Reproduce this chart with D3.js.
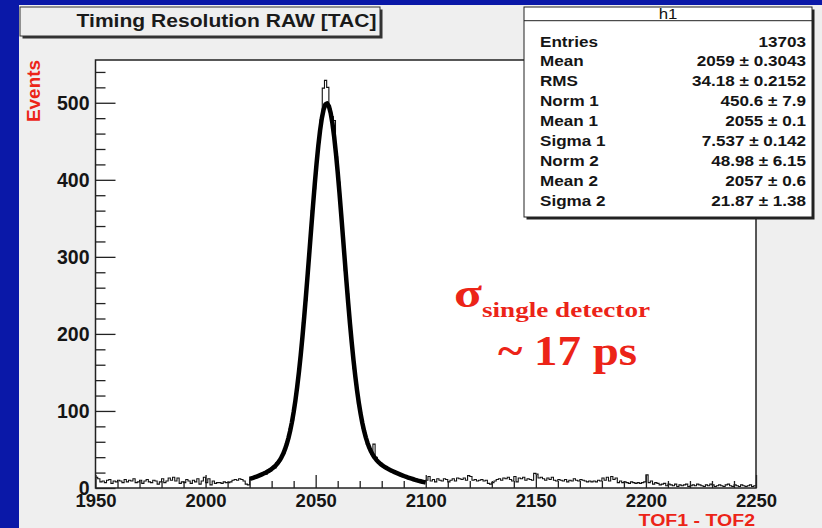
<!DOCTYPE html>
<html>
<head>
<meta charset="utf-8">
<script src="https://cdn.jsdelivr.net/npm/d3@7"></script>
<style>
  html, body { margin: 0; padding: 0; background: #0a18a8; }
  svg { display: block; }
</style>
</head>
<body>
<svg id="chart" width="822" height="528"></svg>
<script>
// ---- Histogram h1: TOF1 - TOF2, 300 bins of width 1 from 1950 to 2250 ----
const binStart = 1950;
const binWidth = 1;
const counts = [
  14, 12, 8, 9, 7, 10, 11, 6, 9, 8,          // 1950
  10, 9, 7, 11, 8, 10, 9, 12, 7, 8,          // 1960
  10, 6, 9, 11, 8, 7, 10, 9, 5, 8,           // 1970
  12, 7, 9, 13, 10, 14, 9, 13, 6, 8,         // 1980
  7, 11, 9, 6, 10, 8, 12, 5, 9, 14,          // 1990
  7, 12, 4, 9, 6, 7, 7, 6, 8, 7,             // 2000
  7, 8, 10, 11, 10, 12, 11, 9, 5, 4,         // 2010
  12, 14, 13, 16, 15, 17, 20, 18, 23, 22,    // 2020
  27, 26, 33, 34, 41, 45, 55, 62, 77, 88,    // 2030
  110, 127, 155, 178, 215, 243, 285, 316, 360, 388, // 2040
  428, 449, 478, 519, 529, 520, 492, 482, 477, 430, // 2050
  397, 356, 325, 282, 252, 213, 187, 155, 135, 110, // 2060
  97, 78, 71, 57, 52, 44, 57, 40, 33, 32,    // 2070
  28, 28, 24, 25, 21, 22, 19, 20, 16, 17,    // 2080
  14, 15, 12, 13, 11, 12, 9, 10, 8, 9,       // 2090
  10, 15, 9, 11, 8, 12, 10, 9, 12, 11,       // 2100
  8, 10, 12, 9, 13, 12, 11, 13, 10, 16,      // 2110
  15, 10, 11, 9, 10, 11, 9, 10, 6, 5,        // 2120
  7, 9, 11, 12, 10, 13, 12, 14, 11, 9,       // 2130
  15, 8, 13, 12, 14, 10, 12, 11, 10, 19,     // 2140
  18, 13, 14, 12, 10, 13, 11, 14, 10, 9,     // 2150
  11, 10, 9, 11, 8, 10, 9, 12, 10, 9,        // 2160
  11, 10, 9, 8, 9, 8, 9, 8, 10, 9,           // 2170
  13, 10, 14, 9, 15, 11, 13, 7, 9, 7,        // 2180
  8, 7, 6, 8, 7, 6, 7, 6, 7, 8,              // 2190
  17, 7, 9, 5, 7, 6, 4, 5, 6, 3,             // 2200
  5, 4, 3, 5, 2, 4, 3, 4, 5, 2,              // 2210
  3, 4, 3, 5, 4, 3, 2, 4, 3, 5,              // 2220
  4, 2, 3, 4, 3, 2, 4, 5, 3, 2,              // 2230
  4, 3, 2, 4, 3, 2, 3, 4, 2, 3               // 2240
];

// ---- Axes ----
const xDomain = [1950, 2250];
const yDomain = [0, 555.5];
const xMajorTicks = [1950, 2000, 2050, 2100, 2150, 2200, 2250];
const xMinorStep = 10;
const yMajorTicks = [0, 100, 200, 300, 400, 500];
const yMinorStep = 20;

// ---- Double-Gaussian fit (parameters as listed in the stats box) ----
const fitNorm  = [450.6, 48.98];
const fitMean  = [2055, 2057];
const fitSigma = [7.537, 21.87];
const fitRange = [2020, 2100];
const fitPoints = 100;

// ---- Stats box ----
const statsTitle = "h1";
const statLabels = ["Entries", "Mean", "RMS", "Norm 1", "Mean 1", "Sigma 1", "Norm 2", "Mean 2", "Sigma 2"];
const statValues = ["13703", "2059 \u00b1 0.3043", "34.18 \u00b1 0.2152", "450.6 \u00b1 7.9", "2055 \u00b1 0.1",
                    "7.537 \u00b1 0.142", "48.98 \u00b1 6.15", "2057 \u00b1 0.6", "21.87 \u00b1 1.38"];

const titleText = "Timing Resolution RAW [TAC]";
const xTitle = "TOF1 - TOF2";
const yTitle = "Events";

// ------------------------------------------------------------------
const svg = d3.select("#chart");
const SANS = "'Liberation Sans', Arial, Helvetica, sans-serif";
const SERIF = "'Liberation Serif', 'Times New Roman', Times, serif";
const RED = "#ec2418";

// widen a text element horizontally by factor k
function stretch(sel, k) {
  sel.each(function () {
    const w = this.getComputedTextLength();
    d3.select(this).attr("textLength", w * k).attr("lengthAdjust", "spacingAndGlyphs");
  });
  return sel;
}

// canvas panel
svg.append("rect").attr("x", 19).attr("y", 5).attr("width", 803).attr("height", 523).attr("fill", "#efefef");

const frame = { left: 95.5, right: 756, top: 60, bottom: 488 };
const x = d3.scaleLinear().domain(xDomain).range([frame.left, frame.right]);
const y = d3.scaleLinear().domain(yDomain).range([frame.bottom, frame.top]);

// plot frame
svg.append("rect")
  .attr("x", frame.left).attr("y", frame.top)
  .attr("width", frame.right - frame.left).attr("height", frame.bottom - frame.top)
  .attr("fill", "#ffffff");

// histogram outline
const edges = [];
counts.forEach((c, i) => {
  const lo = binStart + i * binWidth;
  edges.push([lo, c], [lo + binWidth, c]);
});
svg.append("path")
  .datum(edges)
  .attr("fill", "none")
  .attr("stroke", "#111")
  .attr("stroke-width", 1.1)
  .attr("d", d3.line().x(d => x(d[0])).y(d => y(d[1])));

// fit function
function fitValue(t) {
  let s = 0;
  for (let k = 0; k < fitNorm.length; k++) {
    const z = (t - fitMean[k]) / fitSigma[k];
    s += fitNorm[k] * Math.exp(-0.5 * z * z);
  }
  return s;
}
const fitCurve = d3.range(fitPoints + 1).map(i => {
  const t = fitRange[0] + (fitRange[1] - fitRange[0]) * i / fitPoints;
  return [t, fitValue(t)];
});
svg.append("path")
  .datum(fitCurve)
  .attr("fill", "none")
  .attr("stroke", "#000")
  .attr("stroke-width", 4.5)
  .attr("stroke-linejoin", "round")
  .attr("d", d3.line().x(d => x(d[0])).y(d => y(d[1])));

// frame border
svg.append("rect")
  .attr("x", frame.left).attr("y", frame.top)
  .attr("width", frame.right - frame.left).attr("height", frame.bottom - frame.top)
  .attr("fill", "none").attr("stroke", "#222").attr("stroke-width", 1.5);

// y axis: major and minor ticks pointing into the frame
const yMinor = d3.range(yDomain[0], yDomain[1], yMinorStep).filter(v => v % 100 !== 0);
svg.append("g").attr("transform", `translate(${frame.left},0)`)
  .call(d3.axisLeft(y).tickValues(yMinor).tickSizeInner(-10).tickSizeOuter(0).tickFormat(""))
  .call(g => g.select(".domain").remove())
  .call(g => g.selectAll("line").attr("stroke", "#222").attr("stroke-width", 1.3));
svg.append("g").attr("transform", `translate(${frame.left},0)`)
  .call(d3.axisLeft(y).tickValues(yMajorTicks).tickSizeInner(-20).tickSizeOuter(0).tickPadding(6).tickFormat(d3.format("d")))
  .call(g => g.select(".domain").remove())
  .call(g => g.selectAll("line").attr("stroke", "#222").attr("stroke-width", 1.3))
  .call(g => g.selectAll("text").attr("font-family", SANS).attr("font-weight", "bold")
    .attr("font-size", 19.5).attr("fill", "#151515"));

// x axis: ticks pointing up into the frame
const xMinor = d3.range(xDomain[0], xDomain[1], xMinorStep).filter(v => v % 50 !== 0);
svg.append("g").attr("transform", `translate(0,${frame.bottom})`)
  .call(d3.axisBottom(x).tickValues(xMinor).tickSizeInner(-7).tickSizeOuter(0).tickFormat(""))
  .call(g => g.select(".domain").remove())
  .call(g => g.selectAll("line").attr("stroke", "#222").attr("stroke-width", 1.3));
svg.append("g").attr("transform", `translate(0,${frame.bottom})`)
  .call(d3.axisBottom(x).tickValues(xMajorTicks).tickSizeInner(-13).tickSizeOuter(0).tickPadding(5.5).tickFormat(d3.format("d")))
  .call(g => g.select(".domain").remove())
  .call(g => g.selectAll("line").attr("stroke", "#222").attr("stroke-width", 1.3))
  .call(g => g.selectAll("text").attr("font-family", SANS).attr("font-weight", "bold")
    .attr("font-size", 18.5).attr("fill", "#151515"));

// axis titles
stretch(svg.append("text")
  .attr("x", 755).attr("y", 526)
  .attr("text-anchor", "end")
  .attr("font-family", SANS).attr("font-weight", "bold").attr("font-size", 16)
  .attr("fill", RED).text(xTitle), 1.22);

svg.append("text")
  .attr("transform", "translate(40,122) rotate(-90)")
  .attr("text-anchor", "start")
  .attr("font-family", SANS).attr("font-weight", "bold").attr("font-size", 19)
  .attr("textLength", 62).attr("lengthAdjust", "spacingAndGlyphs")
  .attr("fill", RED).text(yTitle);

// title box
svg.append("rect").attr("x", 22.5).attr("y", 9.5).attr("width", 360).attr("height", 29).attr("fill", "#333");
svg.append("rect").attr("x", 20).attr("y", 7).attr("width", 360).attr("height", 29)
  .attr("fill", "#efefef").attr("stroke", "#333").attr("stroke-width", 1);
stretch(svg.append("text")
  .attr("x", 226.5).attr("y", 27)
  .attr("text-anchor", "middle")
  .attr("font-family", SANS).attr("font-weight", "bold").attr("font-size", 18)
  .attr("fill", "#1a1a1a").text(titleText), 1.17);

// stats box
const sb = { x: 524, y: 7, w: 288, h: 210, head: 13.7 };
svg.append("rect").attr("x", sb.x + 2.5).attr("y", sb.y + 2.5).attr("width", sb.w).attr("height", sb.h).attr("fill", "#222");
svg.append("rect").attr("x", sb.x).attr("y", sb.y).attr("width", sb.w).attr("height", sb.h)
  .attr("fill", "#fff").attr("stroke", "#222").attr("stroke-width", 1);
svg.append("line").attr("x1", sb.x).attr("x2", sb.x + sb.w)
  .attr("y1", sb.y + sb.head).attr("y2", sb.y + sb.head).attr("stroke", "#222").attr("stroke-width", 1);
stretch(svg.append("text")
  .attr("x", 668).attr("y", sb.y + 12)
  .attr("text-anchor", "middle").attr("font-family", SANS).attr("font-size", 14)
  .attr("fill", "#111").text(statsTitle), 1.2);

const rowY = d3.scalePoint().domain(statLabels).range([46.5, 205.5]);
stretch(svg.append("g").selectAll("text").data(statLabels).join("text")
  .attr("x", 540).attr("y", d => rowY(d))
  .attr("font-family", SANS).attr("font-weight", "bold").attr("font-size", 14)
  .attr("fill", "#151515").text(d => d), 1.22);
stretch(svg.append("g").selectAll("text").data(statValues).join("text")
  .attr("x", 806).attr("y", (d, i) => rowY(statLabels[i]))
  .attr("text-anchor", "end")
  .attr("font-family", SANS).attr("font-weight", "bold").attr("font-size", 14)
  .attr("fill", "#151515").text(d => d), 1.22);

// resolution annotation
svg.append("text")
  .attr("x", 454).attr("y", 307)
  .attr("font-family", SERIF).attr("font-weight", "bold").attr("font-size", 40)
  .attr("textLength", 28).attr("lengthAdjust", "spacingAndGlyphs")
  .attr("fill", RED).text("\u03c3");
svg.append("text")
  .attr("x", 482).attr("y", 317)
  .attr("font-family", SERIF).attr("font-weight", "bold").attr("font-size", 21)
  .attr("textLength", 168).attr("lengthAdjust", "spacingAndGlyphs")
  .attr("fill", RED).text("single detector");
svg.append("text")
  .attr("x", 498).attr("y", 365)
  .attr("font-family", SERIF).attr("font-weight", "bold").attr("font-size", 43)
  .attr("textLength", 139).attr("lengthAdjust", "spacingAndGlyphs")
  .attr("fill", RED).text("~ 17 ps");
</script>
</body>
</html>
